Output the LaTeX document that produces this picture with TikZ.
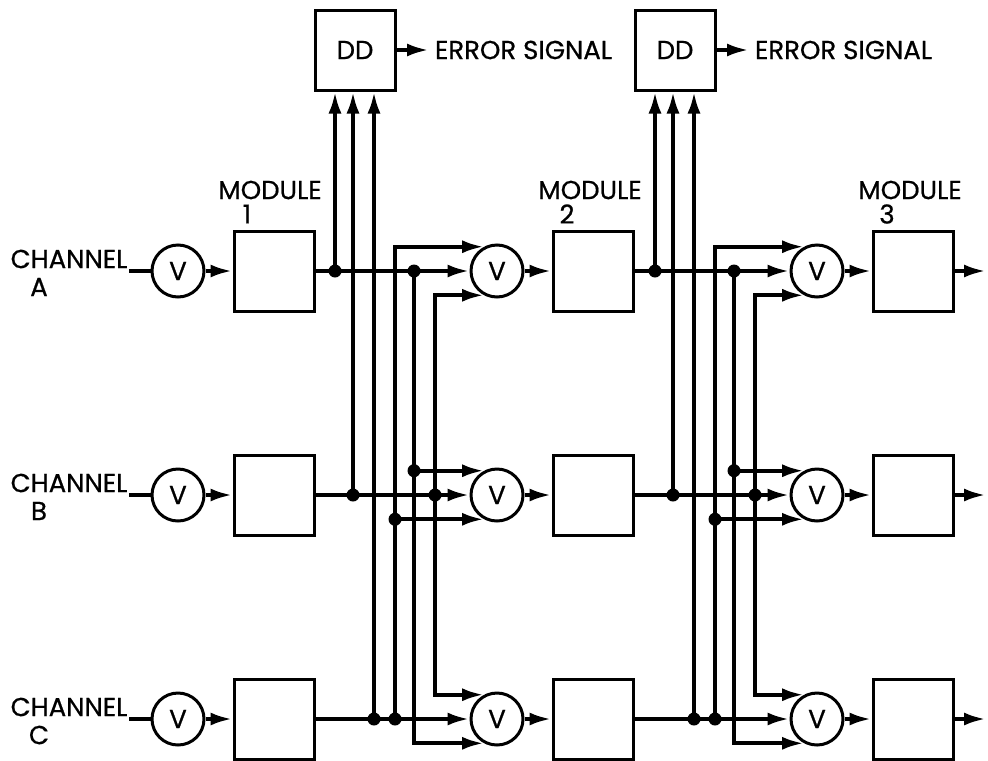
\documentclass[tikz,border=0pt]{standalone}
\usepackage{fontspec}
\setmainfont{Poppins}[FakeBold=0.7]
\usetikzlibrary{arrows.meta}

\begin{document}
\begin{tikzpicture}[x=0.5pt, y=-0.5pt, >={Latex[length=11pt,width=6.5pt]},
  line width=2pt,
  box/.style={draw, line width=1.5pt, minimum width=40pt, minimum height=40pt, inner sep=0pt},
  voter/.style={draw, circle, line width=1.5pt, minimum size=26pt, inner sep=0pt},
  tap/.style={circle, fill, inner sep=0pt, minimum size=6.5pt},
  lbl/.style={inner sep=0pt},
  font=\fontsize{13}{15}\selectfont]

\useasboundingbox (0,0) rectangle (988,760);

% Voters and modules
\foreach \s/\x in {1/178, 2/497, 3/817}
  \foreach \r/\y in {A/271, B/495, C/719} {
    \node[voter] (v\r\s) at (\x,\y) {V};
    \node[box] (m\r\s) at (\x+96,\y) {};
    \draw[->] (v\r\s) -- (m\r\s);
  }

% Channel inputs
\foreach \r/\y in {A/271, B/495, C/719} {
  \node[lbl] (ch\r) at (69,\y-12) {CHANNEL};
  \node[lbl] at (39,\y+16) {\r};
  \draw (ch\r.east |- v\r1.west) -- (v\r1.west);
}

% Module labels
\foreach \s/\o in {1/0, 2/320, 3/640} {
  \node[lbl] at (270+\o,190) {MODULE};
  \node[lbl] at (247+\o,214) {\s};
}

% Outputs
\foreach \r in {A, B, C} {
  \coordinate (out\r) at (986,0 |- m\r3.east);
  \draw[->] (m\r3.east) -- (out\r);
}

% Disagreement detectors
\foreach \s/\o in {1/0, 2/320} {
  \node[box] (dd\s) at (355+\o,50) {DD};
  \node[lbl, anchor=west, inner sep=2pt] (err\s) at (429+\o,50) {ERROR SIGNAL};
  \draw[->] (dd\s.east) -- (err\s.west);
}

% Cross wiring between stages
\foreach \s/\n/\o in {1/2/0, 2/3/320} {
  \coordinate (ta\s) at (335+\o,271);
  \coordinate (tb\s) at (353+\o,495);
  \coordinate (tc\s) at (374+\o,719);
  \coordinate (pc\s) at (395+\o,719);
  \coordinate (pa\s) at (414+\o,271);
  \coordinate (pb\s) at (435+\o,495);
  \foreach \r in {A, B, C}
    \draw[->] (m\r\s.east) -- (v\r\n.west);
  % to the DD
  \draw[->] (ta\s) -- (ta\s |- dd\s.south);
  \draw[->] (tb\s) -- (tb\s |- dd\s.south);
  \draw[->] (tc\s) -- (tc\s |- dd\s.south);
  % to the voters
  \draw[->] (pc\s) |- (vA\n.118);
  \draw[->] (pc\s |- vB\n.242) -- (vB\n.242);
  \draw[->] (pa\s) |- (vC\n.242);
  \draw[->] (pa\s |- vB\n.118) -- (vB\n.118);
  \draw[<->] (vA\n.242) -| (pb\s) |- (vC\n.118);
  % junction dots
  \foreach \t in {ta\s, tb\s, tc\s, pc\s, pa\s, pb\s}
    \node[tap] at (\t) {};
  \node[tap] at (pc\s |- vB\n.242) {};
  \node[tap] at (pa\s |- vB\n.118) {};
}

\end{tikzpicture}
\end{document}
